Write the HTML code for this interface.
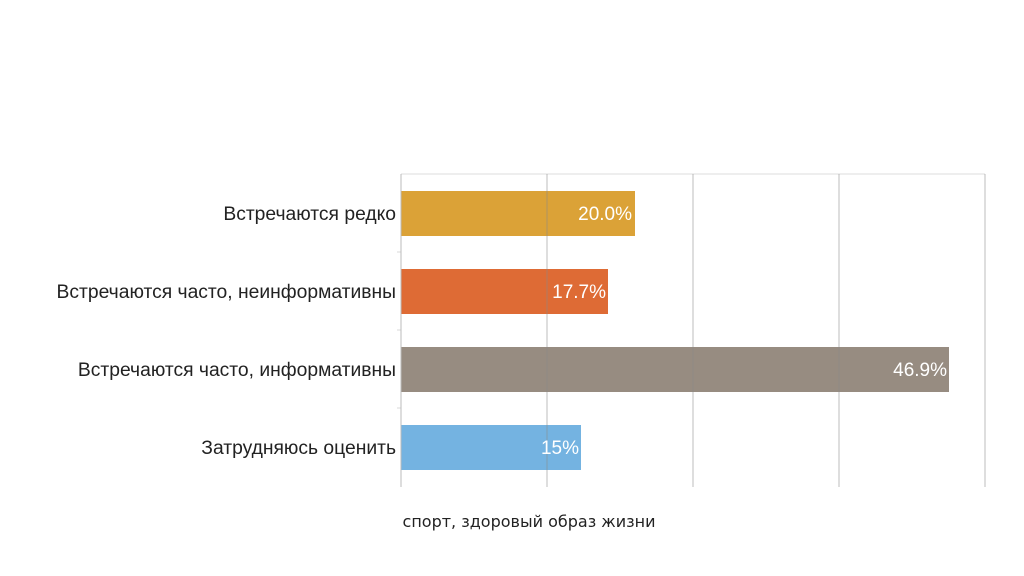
<!DOCTYPE html>
<html><head><meta charset="utf-8"><style>
html,body{margin:0;padding:0;background:#fff;}
svg{display:block;}
text{font-family:"Liberation Sans","DejaVu Sans",sans-serif;}
</style></head><body>
<svg width="1024" height="576" viewBox="0 0 1024 576">
<rect width="1024" height="576" fill="#fff"/>
<line x1="401" y1="174" x2="985" y2="174" stroke="#dcdcdc" stroke-width="1"/>
<g stroke="#d8d8d8" stroke-width="1">
<line x1="397" y1="252" x2="401" y2="252"/>
<line x1="397" y1="330" x2="401" y2="330"/>
<line x1="397" y1="408" x2="401" y2="408"/>
</g>
<rect x="401" y="191" width="234" height="45" fill="#DBA237"/>
<rect x="401" y="269" width="207" height="45" fill="#DE6B35"/>
<rect x="401" y="347" width="548" height="45" fill="#978C81"/>
<rect x="401" y="425" width="180" height="45" fill="#74B3E1"/>
<g stroke="#888" stroke-opacity="0.55" stroke-width="1">
<line x1="547" y1="174" x2="547" y2="487"/>
<line x1="693" y1="174" x2="693" y2="487"/>
<line x1="839" y1="174" x2="839" y2="487"/>
<line x1="985" y1="174" x2="985" y2="487"/>
</g>
<line x1="401" y1="174" x2="401" y2="487" stroke="#bbb" stroke-width="1"/>
<g font-size="19.3" fill="#222" text-anchor="end">
<text x="396" y="220">Встречаются редко</text>
<text x="396" y="298">Встречаются часто, неинформативны</text>
<text x="396" y="376">Встречаются часто, информативны</text>
<text x="396" y="454">Затрудняюсь оценить</text>
</g>
<g font-size="19" fill="#fff" text-anchor="end">
<text x="632" y="220">20.0%</text>
<text x="606" y="298">17.7%</text>
<text x="947" y="376">46.9%</text>
<text x="579" y="454">15%</text>
</g>
<text x="529" y="527" font-size="16" fill="#222" text-anchor="middle" style="font-family:'DejaVu Sans',sans-serif">спорт, здоровый образ жизни</text>
</svg>
</body></html>
